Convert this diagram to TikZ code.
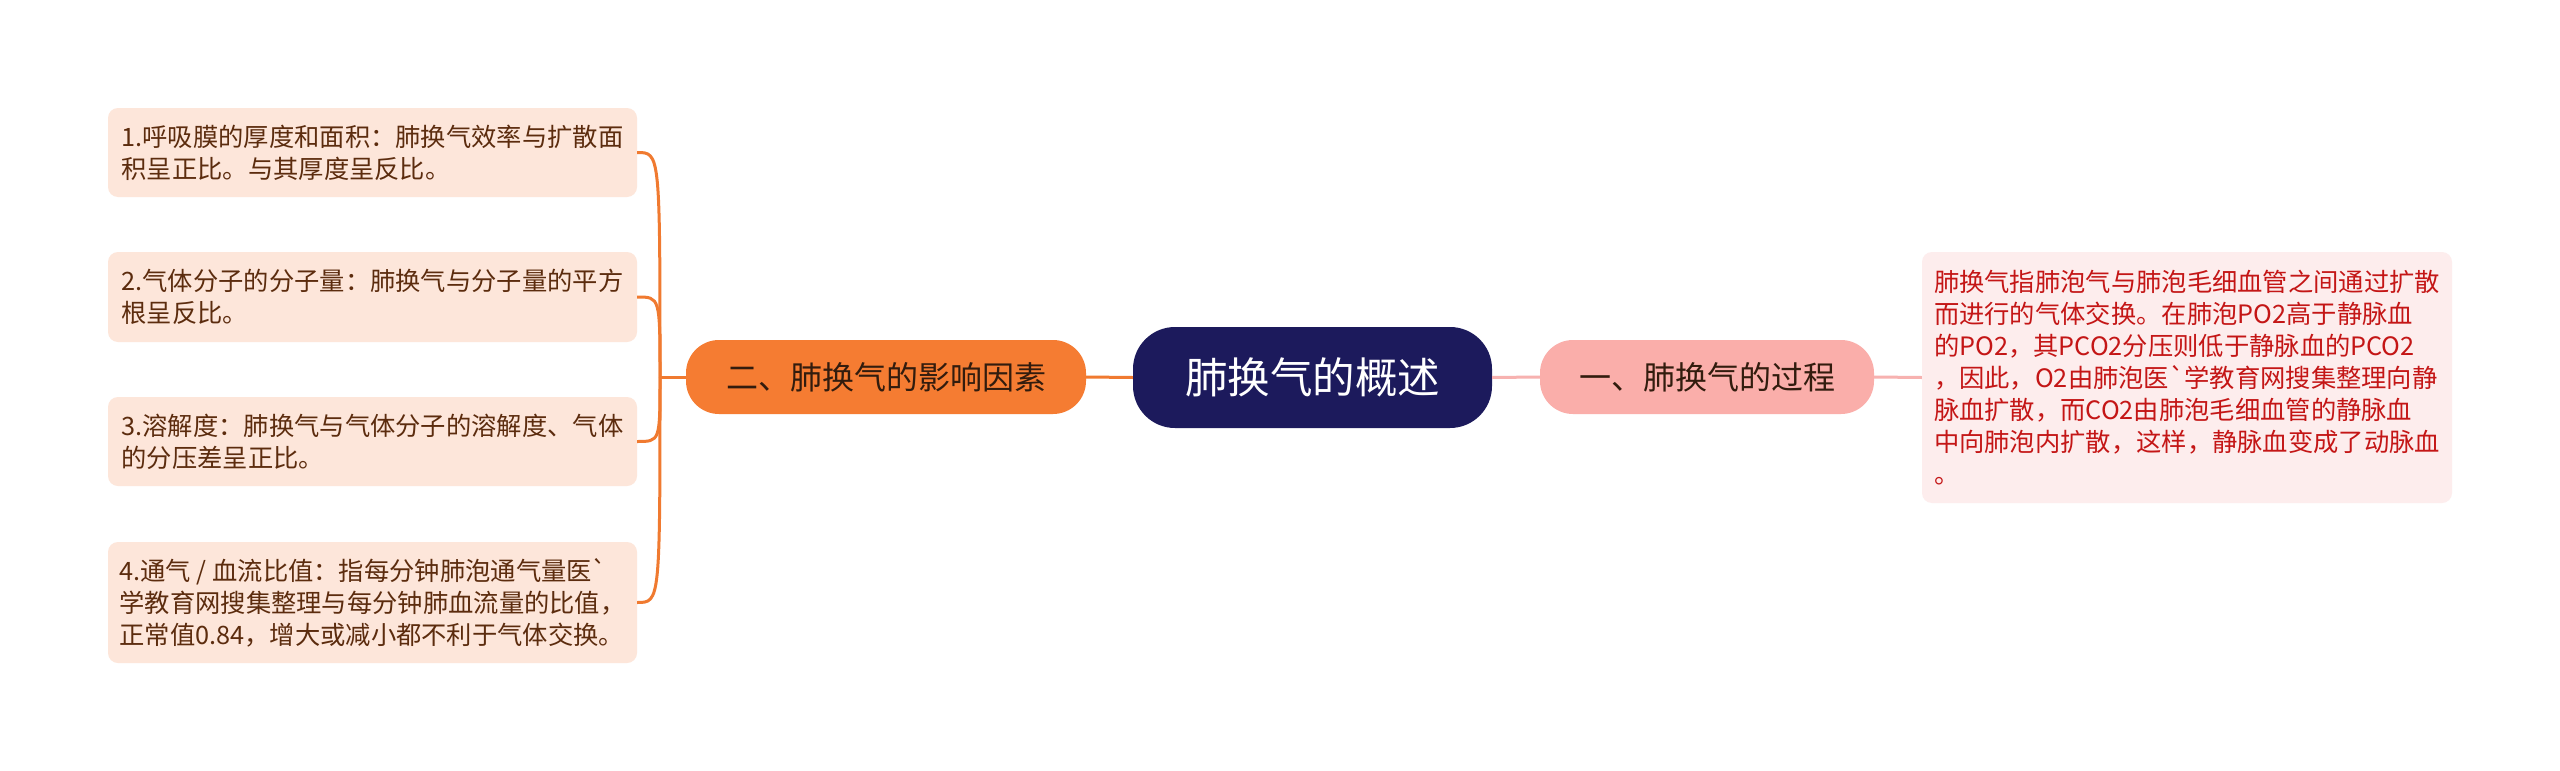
\documentclass[tikz,border=0pt]{standalone}
\usepackage{fontspec}
\setmainfont{Noto Sans CJK SC}
\definecolor{navy}{RGB}{28,26,92}
\definecolor{orangeN}{RGB}{245,124,50}
\definecolor{pinkN}{RGB}{250,174,170}
\definecolor{leafL}{RGB}{253,230,218}
\definecolor{leafR}{RGB}{253,237,237}
\definecolor{txtL}{RGB}{92,44,14}
\definecolor{txtR}{RGB}{196,22,22}
\definecolor{txtD}{RGB}{50,28,14}
\definecolor{lineO}{RGB}{240,122,48}
\definecolor{lineP}{RGB}{247,178,176}
\begin{document}
\begin{tikzpicture}[x=1pt,y=-1pt,
  rootbox/.style={fill=navy, rounded corners=42pt, inner sep=0pt, text=white,
    font=\fontsize{42.5}{50}\selectfont},
  branchbox/.style={rounded corners=33pt, inner sep=0pt, text=txtD,
    font=\fontsize{32}{38}\selectfont},
  leafbox/.style={rounded corners=10pt, inner sep=0pt, align=left,
    font=\fontsize{25.3}{32}\selectfont},
  leftleaf/.style={leafbox, fill=leafL, text=txtL, minimum width=529pt},
  rightleaf/.style={leafbox, fill=leafR, text=txtR, minimum width=530pt},
  oline/.style={draw=lineO, line width=3pt},
  pline/.style={draw=lineP, line width=3pt},
]
\useasboundingbox (0,0) rectangle (2560,771);
\fill[white] (0,0) rectangle (2560,771);

\node[rootbox, minimum width=359pt, minimum height=101pt] (root) at (1312.5,377.5) {肺换气的概述};
\node[branchbox, fill=orangeN, minimum width=400pt, minimum height=74pt] (b2) at (886,377) {二、肺换气的影响因素};
\node[branchbox, fill=pinkN, minimum width=334pt, minimum height=74pt] (b1) at (1707,377) {一、肺换气的过程};

\node[rightleaf, minimum height=251pt] (r1) at (2187,377.5) {肺换气指肺泡气与肺泡毛细血管之间通过扩散\\而进行的气体交换。在肺泡PO2高于静脉血\\的PO2，其PCO2分压则低于静脉血的PCO2\\，因此，O2由肺泡医\textasciigrave 学教育网搜集整理向静\\脉血扩散，而CO2由肺泡毛细血管的静脉血\\中向肺泡内扩散，这样，静脉血变成了动脉血\\。};

\node[leftleaf, minimum height=89pt] (l1) at (372.5,152.5) {1.呼吸膜的厚度和面积：肺换气效率与扩散面\\积呈正比。与其厚度呈反比。};
\node[leftleaf, minimum height=90pt] (l2) at (372.5,297) {2.气体分子的分子量：肺换气与分子量的平方\\根呈反比。};
\node[leftleaf, minimum height=89pt] (l3) at (372.5,441.5) {3.溶解度：肺换气与气体分子的溶解度、气体\\的分压差呈正比。};
\node[leftleaf, minimum height=121pt] (l4) at (372.5,602.5) {4.通气 / 血流比值：指每分钟肺泡通气量医\textasciigrave\\学教育网搜集整理与每分钟肺血流量的比值，\\正常值0.84，增大或减小都不利于气体交换。};

\coordinate (J) at (660,377);
\draw[pline] (root.east) -- (b1.west);
\draw[pline] (b1.east) -- (r1.west);
\draw[oline] (root.west) -- (b2.east);
\draw[oline] (b2.west) -- (J);
\foreach \l in {l1,l2,l3,l4}{
  \draw[oline] (J) .. controls (J |- \l.east) and (J |- \l.east) .. (\l.east);
}
\end{tikzpicture}
\end{document}
